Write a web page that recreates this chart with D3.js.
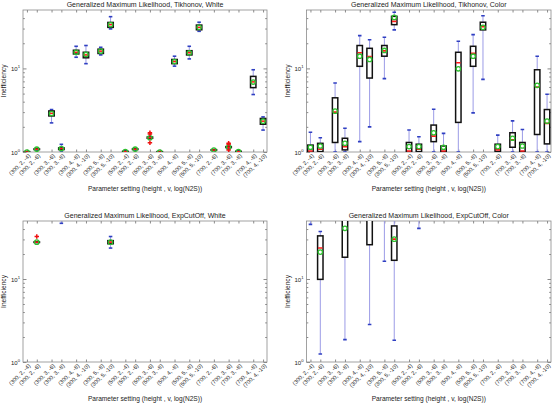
<!DOCTYPE html>
<html><head><meta charset="utf-8">
<script src="https://cdnjs.cloudflare.com/ajax/libs/d3/7.8.5/d3.min.js"></script>
<style>
body{margin:0;background:#fff}
text{font-family:"Liberation Sans",Arial,Helvetica,sans-serif;fill:#222}
</style>
</head><body>
<svg id="c" width="552" height="404"></svg>
<script>
// ---- categories (height, v, log(N2S)) ----
const categories = [
  "(300, 2, -4)","(300, 2, -6)","(300, 3, -6)","(300, 3, -8)","(300, 4, -8)","(300, 4, -10)",
  "(300, 5, -8)","(300, 5, -10)","(500, 2, -4)","(500, 2, -6)","(500, 3, -6)","(500, 3, -8)",
  "(500, 4, -8)","(500, 5, -8)","(500, 5, -10)","(700, 2, -6)","(700, 3, -6)","(700, 3, -8)",
  "(700, 4, -8)","(700, 4, -10)"
];
const yTickMajor = [1, 10];
const yTickMinor = [2,3,4,5,6,7,8,9,20,30,40];
const yDomain = [1, 50];

// each row: [whiskerLow, q1, median, q3, whiskerHigh, mean]  (null = nothing drawn)
const tikhonovWhite = [
  [1.0,1.0,1.0,1.01,1.01,1.0],
  [1.06,1.07,1.08,1.09,1.10,1.08],
  [2.23,2.7,2.9,3.1,3.22,2.89],
  [1.0,1.07,1.1,1.12,1.235,1.1],
  [13.6,14.9,15.6,16.5,18.4,15.6],
  [11.4,13.4,14.5,15.6,18.8,14.7],
  [14.5,15.1,16.1,17.0,17.9,16.1],
  [29.7,31.0,33.4,35.5,41.6,33.4],
  [1.0,1.0,1.01,1.02,1.03,1.01],
  [1.06,1.07,1.08,1.09,1.10,1.08],
  [1.43,1.46,1.48,1.51,1.52,1.48],
  [1.0,1.0,1.0,1.01,1.01,1.0],
  [10.65,11.4,12.1,12.8,14.0,12.1],
  [13.0,14.5,15.4,16.3,18.4,15.4],
  [27.8,29.0,31.0,33.0,35.7,31.0],
  [1.04,1.05,1.056,1.065,1.07,1.056],
  [1.12,1.13,1.14,1.16,1.17,1.14],
  [1.0,1.0,1.01,1.02,1.03,1.01],
  [4.87,5.89,6.9,8.03,9.64,6.87],
  [1.83,2.15,2.34,2.52,2.63,2.34]
];
const tikhonovWhiteOutliers = [[10,1.70],[10,1.64],[10,1.29],[16,1.27],[16,1.24],[16,1.06]];

const tikhonovColor = [
  [1.0,1.0,1.03,1.21,1.72,1.14],
  [1.0,1.01,1.08,1.27,1.48,1.18],
  [1.0,1.30,3.0,4.45,6.68,3.08],
  [1.0,1.06,1.16,1.46,1.92,1.27],
  [1.33,10.6,15.4,18.8,24.7,14.0],
  [2.0,7.67,13.9,17.4,22.0,12.8],
  [7.54,14.0,16.2,18.8,23.6,16.4],
  [28.9,33.4,36.5,42.0,47.0,40.8],
  [1.0,1.0,1.03,1.30,1.83,1.16],
  [1.0,1.01,1.08,1.24,1.52,1.16],
  [1.0,1.33,1.55,2.10,3.25,1.70],
  [1.0,1.01,1.03,1.18,1.67,1.14],
  [1.0,2.26,11.7,15.6,21.1,9.9],
  [2.94,10.6,15.2,18.4,25.4,14.0],
  [7.4,28.9,31.5,35.7,42.7,31.0],
  [1.0,1.01,1.06,1.24,1.59,1.16],
  [1.0,1.14,1.40,1.70,2.36,1.46],
  [1.0,1.01,1.03,1.30,1.86,1.18],
  [1.0,1.62,6.0,9.64,14.0,6.28],
  [1.0,1.25,2.2,3.22,4.9,2.34]
];
const tikhonovColorOutliers = [];

const expCutWhite = [
  null,
  [27.5,27.6,27.8,28.0,28.1,27.8],
  null,
  [46.9,60,70,80,100,70],
  null,null,null,
  [23.6,26.6,27.8,29.0,32.5,27.8],
  null,null,null,null,null,null,null,null,null,null,null,null
];
const expCutWhiteOutliers = [[1,32.5]];

const expCutColor = [
  [45.5,60,80,100,150,90],
  [1.25,9.9,23.6,33.1,37.3,21.1],
  null,
  [1.86,18.3,55,90,150,40.8],
  null,
  [2.83,25.9,60,100,150,70],
  [16.4,60,80,100,150,80],
  [1.83,16.8,30.2,43.6,60,30.2],
  null,
  [40.8,60,80,100,150,80],
  null,null,null,null,null,null,null,null,null,null
];
const expCutColorOutliers = [];

// ---- positions derived from grouping by (height, v) ----
const keys = categories.map(c => c.replace(/[()]/g,"").split(",").map(s => s.trim()));
const pos = [];
keys.forEach((k,i) => {
  if (i === 0) pos.push(0);
  else {
    const same = k[0] === keys[i-1][0] && k[1] === keys[i-1][1];
    pos.push(pos[i-1] + (same ? 1 : 1.5));
  }
});

const panels = [
  {title:"Generalized Maximum Likelihood, Tikhonov, White", stats:tikhonovWhite, out:tikhonovWhiteOutliers, x0:23, x1:267, y0:10, y1:152},
  {title:"Generalized Maximum Likelihood, Tikhonov, Color", stats:tikhonovColor, out:tikhonovColorOutliers, x0:306.5, x1:551, y0:10, y1:152},
  {title:"Generalized Maximum Likelihood, ExpCutOff, White", stats:expCutWhite, out:expCutWhiteOutliers, x0:23, x1:267, y0:221, y1:362},
  {title:"Generalized Maximum Likelihood, ExpCutOff, Color", stats:expCutColor, out:expCutColorOutliers, x0:306.5, x1:551, y0:221, y1:362}
];

const svg = d3.select("#c");
const axisColor = "#8a8a8a";

panels.forEach((p, pi) => {
  const g = svg.append("g");
  const x = d3.scaleLinear().domain([d3.min(pos)-0.4, d3.max(pos)+0.4]).range([p.x0, p.x1]);
  const y = d3.scaleLog().domain(yDomain).range([p.y1, p.y0]);
  const unit = x(1) - x(0);

  const clipId = "clip" + pi;
  g.append("clipPath").attr("id", clipId).append("rect")
    .attr("x", p.x0).attr("y", p.y0).attr("width", p.x1 - p.x0).attr("height", p.y1 - p.y0);

  g.append("rect").attr("x", p.x0).attr("y", p.y0).attr("width", p.x1-p.x0).attr("height", p.y1-p.y0)
    .attr("fill", "none").attr("stroke", axisColor).attr("stroke-width", 0.8);

  const xb = g.append("g").attr("transform", `translate(0,${p.y1})`)
    .call(d3.axisBottom(x).tickValues(pos).tickSizeInner(-2.5).tickSizeOuter(0).tickFormat((d,i)=>categories[i]));
  xb.select(".domain").remove();
  xb.selectAll(".tick line").attr("stroke", axisColor);
  xb.selectAll(".tick text")
    .attr("transform", "translate(2,3) rotate(-45)")
    .attr("text-anchor", "end").attr("dy", "0.32em").attr("y", 0).attr("x", 0)
    .style("font-size", "5.6px").style("font-family", '"Liberation Sans",Arial,sans-serif').attr("fill","#222");
  const xt = g.append("g").attr("transform", `translate(0,${p.y0})`)
    .call(d3.axisTop(x).tickValues(pos).tickSizeInner(-2.5).tickSizeOuter(0).tickFormat(""));
  xt.select(".domain").remove();
  xt.selectAll(".tick line").attr("stroke", axisColor);

  [[d3.axisLeft, p.x0, 1],[d3.axisRight, p.x1, 0]].forEach(([ax, xx, lab]) => {
    const gm = g.append("g").attr("transform", `translate(${xx},0)`)
      .call(ax(y).tickValues(yTickMinor).tickSizeInner(-1.8).tickSizeOuter(0).tickFormat(""));
    gm.select(".domain").remove();
    gm.selectAll(".tick line").attr("stroke", axisColor);
    const gM = g.append("g").attr("transform", `translate(${xx},0)`)
      .call(ax(y).tickValues(yTickMajor).tickSizeInner(-3.5).tickSizeOuter(0).tickFormat(""));
    gM.select(".domain").remove();
    gM.selectAll(".tick line").attr("stroke", axisColor);
    if (lab) {
      gM.selectAll(".tick").each(function(d){
        const t = d3.select(this).append("text").attr("x", -3).attr("y", 2)
          .attr("text-anchor","end").style("font-size","6px");
        t.append("tspan").text("10");
        t.append("tspan").attr("dy", -3).style("font-size","4.2px").text(Math.round(Math.log10(d)));
      });
    }
  });

  g.append("text").attr("x", (p.x0+p.x1)/2).attr("y", p.y0 - 3.5).attr("text-anchor","middle")
    .style("font-size","7px").text(p.title);
  g.append("text").attr("x", (p.x0+p.x1)/2).attr("y", p.y1 + 39).attr("text-anchor","middle")
    .style("font-size","6.6px").text("Parameter setting (height , v, log(N2S))");
  g.append("text").attr("transform", `translate(${p.x0-17},${(p.y0+p.y1)/2}) rotate(-90)`)
    .attr("text-anchor","middle").style("font-size","6.6px").text("Inefficiency");

  const plot = g.append("g").attr("clip-path", `url(#${clipId})`);
  const rows = p.stats.map((s,i) => s ? {i, x: x(pos[i]), lo:s[0], q1:s[1], med:s[2], q3:s[3], hi:s[4], mean:s[5]} : null).filter(Boolean);
  const bw = unit * 0.55, cw = unit * 0.36;

  const b = plot.selectAll("g.box").data(rows).join("g").attr("class","box");
  b.append("line").attr("x1", d=>d.x).attr("x2", d=>d.x).attr("y1", d=>y(d.lo)).attr("y2", d=>y(d.hi))
    .attr("stroke", "#9b9be6").attr("stroke-width", 1);
  b.append("line").attr("x1", d=>d.x-cw/2).attr("x2", d=>d.x+cw/2).attr("y1", d=>y(d.hi)).attr("y2", d=>y(d.hi))
    .attr("stroke", "#2f3fc2").attr("stroke-width", 1.6);
  b.append("line").attr("x1", d=>d.x-cw/2).attr("x2", d=>d.x+cw/2).attr("y1", d=>y(d.lo)).attr("y2", d=>y(d.lo))
    .attr("stroke", "#2f3fc2").attr("stroke-width", 1.6);
  b.append("rect").attr("x", d=>d.x-bw/2).attr("width", bw)
    .attr("y", d=>y(d.q3)).attr("height", d=>Math.max(0.5, y(d.q1)-y(d.q3)))
    .attr("fill","#fff").attr("stroke","#111").attr("stroke-width",1.5);
  b.append("line").attr("x1", d=>d.x-bw/2+0.5).attr("x2", d=>d.x+bw/2-0.5).attr("y1", d=>y(d.med)).attr("y2", d=>y(d.med))
    .attr("stroke", "#ff1a1a").attr("stroke-width", 1.6);
  b.append("circle").attr("cx", d=>d.x).attr("cy", d=>y(d.mean)).attr("r", 2.2)
    .attr("fill","none").attr("stroke","#2fbf2f").attr("stroke-width",1.3);

  plot.selectAll("path.out").data(p.out).join("path").attr("class","out")
    .attr("transform", d=>`translate(${x(pos[d[0]])},${y(d[1])})`)
    .attr("d", d3.symbol(d3.symbolCross, 11)).attr("fill", "#ee1111");
});
</script>
</body></html>
